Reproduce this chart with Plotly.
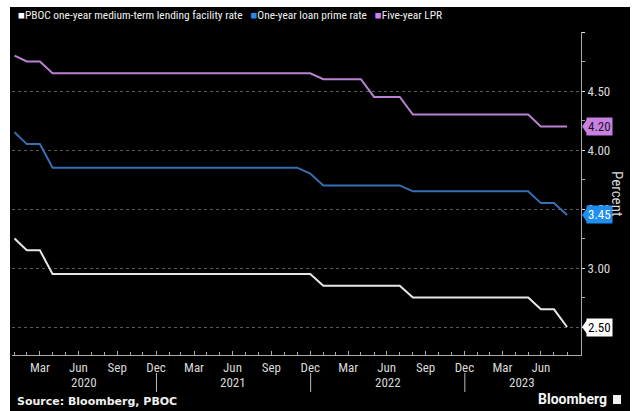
import plotly.graph_objects as go
import pandas as pd

# Monthly (month-end) observations, Jan 2020 - Aug 2023
months = pd.date_range("2020-01-31", periods=44, freq="ME")

mlf = [3.25, 3.15, 3.15, 2.95, 2.95, 2.95, 2.95, 2.95, 2.95, 2.95, 2.95, 2.95,
       2.95, 2.95, 2.95, 2.95, 2.95, 2.95, 2.95, 2.95, 2.95, 2.95, 2.95, 2.95,
       2.85, 2.85, 2.85, 2.85, 2.85, 2.85, 2.85, 2.75, 2.75, 2.75, 2.75, 2.75,
       2.75, 2.75, 2.75, 2.75, 2.75, 2.65, 2.65, 2.50]
lpr1 = [4.15, 4.05, 4.05, 3.85, 3.85, 3.85, 3.85, 3.85, 3.85, 3.85, 3.85, 3.85,
        3.85, 3.85, 3.85, 3.85, 3.85, 3.85, 3.85, 3.85, 3.85, 3.85, 3.85, 3.80,
        3.70, 3.70, 3.70, 3.70, 3.70, 3.70, 3.70, 3.65, 3.65, 3.65, 3.65, 3.65,
        3.65, 3.65, 3.65, 3.65, 3.65, 3.55, 3.55, 3.45]
lpr5 = [4.80, 4.75, 4.75, 4.65, 4.65, 4.65, 4.65, 4.65, 4.65, 4.65, 4.65, 4.65,
        4.65, 4.65, 4.65, 4.65, 4.65, 4.65, 4.65, 4.65, 4.65, 4.65, 4.65, 4.65,
        4.60, 4.60, 4.60, 4.60, 4.45, 4.45, 4.45, 4.30, 4.30, 4.30, 4.30, 4.30,
        4.30, 4.30, 4.30, 4.30, 4.30, 4.20, 4.20, 4.20]

series_names = ["PBOC one-year medium-term lending facility rate",
                "One-year loan prime rate", "Five-year LPR"]
line_colors = ["#e6e6e6", "#3570b5", "#b981d2"]
swatch_colors = ["#ffffff", "#2a86e8", "#cf82ee"]
tag_bg = ["#ffffff", "#1f8ef0", "#c880e4"]
tag_fg = ["#000000", "#ffffff", "#1a1a1a"]

x_tick_vals = ["2020-03-31", "2020-06-30", "2020-09-30", "2020-12-31",
               "2021-03-31", "2021-06-30", "2021-09-30", "2021-12-31",
               "2022-03-31", "2022-06-30", "2022-09-30", "2022-12-31",
               "2023-03-31", "2023-06-30"]
x_tick_text = ["Mar", "Jun", "Sep", "Dec"] * 3 + ["Mar", "Jun"]
years = ["2020", "2021", "2022", "2023"]
year_centers = ["2020-07-13", "2021-07-02", "2022-07-02", "2023-05-17"]
year_bounds = ["2021-01-01", "2022-01-01", "2023-01-01"]

y_tick_vals = [2.5, 3.0, 3.5, 4.0, 4.5, 5.0]
y_tick_text = ["2.50", "3.00", "3.50", "4.00", "4.50", ""]
y_minor_vals = [2.75, 3.25, 3.75, 4.25, 4.75]

FONT = "Liberation Sans Narrow, Roboto Condensed, Arial Narrow, Roboto, sans-serif"

fig = go.Figure()
for vals, name, col in zip([mlf, lpr1, lpr5], series_names, line_colors):
    fig.add_trace(go.Scatter(x=months, y=vals, mode="lines", name=name,
                             line=dict(color=col, width=2), showlegend=False))

W, H = 635, 411
ml, mr, mt, mb = 12, 54, 32, 56
pw, ph = W - ml - mr, H - mt - mb


def px_x(p):
    return (p - ml) / pw


def px_y(p):
    return (H - mb - p) / ph


shapes = [
    # black frame background
    dict(type="rect", xref="paper", yref="paper", x0=px_x(10), x1=px_x(630),
         y0=px_y(411), y1=px_y(7), fillcolor="black", line=dict(width=0),
         layer="below"),
]
for b in year_bounds:
    shapes.append(dict(type="line", xref="x", yref="paper", x0=b, x1=b,
                       y0=px_y(373), y1=px_y(392),
                       line=dict(color="#bbbbbb", width=1)))

annotations = []
# legend
legend_html = "&nbsp;&nbsp;&nbsp;".join(
    f"<span style='color:{c}'>■</span>{n}" for c, n in zip(swatch_colors, series_names))
annotations.append(dict(xref="paper", yref="paper", x=px_x(16), y=px_y(15),
                        xanchor="left", yanchor="middle", showarrow=False,
                        text=legend_html, font=dict(family=FONT, size=11.4, color="#f0f0f0")))
# year labels
for yr, c in zip(years, year_centers):
    annotations.append(dict(xref="x", yref="paper", x=c, y=px_y(382),
                            xanchor="center", yanchor="middle", showarrow=False,
                            text=yr, font=dict(family=FONT, size=13, color="#d8d8d8")))
# last-value tags
for vals, bg, fg in zip([mlf, lpr1, lpr5], tag_bg, tag_fg):
    last = vals[-1]
    annotations.append(dict(xref="paper", yref="y", x=px_x(586), y=last,
                            xanchor="left", yanchor="middle", showarrow=False,
                            text=f"{last:.2f}", bgcolor=bg, borderpad=1,
                            font=dict(family=FONT, size=13, color=fg)))
    shapes.append(dict(type="path", xref="paper", yref="y",
                       path=f"M {px_x(582)},{last} L {px_x(587)},{last + 0.06} "
                            f"L {px_x(587)},{last - 0.06} Z",
                       fillcolor=bg, line=dict(width=0)))
# axis title
annotations.append(dict(xref="paper", yref="paper", x=px_x(617), y=px_y(193),
                        xanchor="center", yanchor="middle", showarrow=False,
                        text="Percent", textangle=90,
                        font=dict(family=FONT, size=15, color="#d8d8d8")))
# source + logo
annotations.append(dict(xref="paper", yref="paper", x=px_x(15), y=px_y(401),
                        xanchor="left", yanchor="middle", showarrow=False,
                        text="<b>Source: Bloomberg, PBOC</b>",
                        font=dict(family="DejaVu Sans, sans-serif", size=11, color="#f0f0f0")))
annotations.append(dict(xref="paper", yref="paper", x=px_x(609), y=px_y(399),
                        xanchor="right", yanchor="middle", showarrow=False,
                        text="<b>Bloomberg</b>",
                        font=dict(family="Roboto, sans-serif", size=14, color="#f4f4f4")))
shapes.append(dict(type="rect", xref="paper", yref="paper", x0=px_x(613), x1=px_x(621),
                   y0=px_y(404), y1=px_y(395), fillcolor="#f0f0f0",
                   line=dict(width=0)))

fig.update_layout(
    width=W, height=H,
    margin=dict(l=ml, r=mr, t=mt, b=mb, pad=0),
    paper_bgcolor="white", plot_bgcolor="black",
    font=dict(family=FONT, size=13, color="#d8d8d8"),
    shapes=shapes, annotations=annotations,
    xaxis=dict(range=["2020-01-25", "2023-10-03"], tickmode="array",
               tickvals=x_tick_vals, ticktext=x_tick_text,
               ticks="inside", ticklen=4, tickcolor="#aaaaaa",
               showgrid=False, zeroline=False,
               showline=True, linecolor="#aaaaaa", linewidth=1,
               tickfont=dict(family=FONT, size=13, color="#d8d8d8"),
               minor=dict(tickvals=list(months.strftime("%Y-%m-%d")),
                          ticks="inside", ticklen=3, tickcolor="#aaaaaa")),
    yaxis=dict(side="right", range=[2.263, 5.0], tickmode="array",
               tickvals=y_tick_vals, ticktext=y_tick_text,
               ticks="outside", ticklen=3, tickcolor="#dddddd",
               showgrid=True, gridcolor="#5a5a5a", griddash="dot", gridwidth=1,
               zeroline=False, showline=True, linecolor="#aaaaaa", linewidth=1,
               tickfont=dict(family=FONT, size=13, color="#d8d8d8"),
               minor=dict(tickvals=y_minor_vals, ticks="outside", ticklen=3,
                          tickcolor="#aaaaaa", showgrid=False)),
)

fig.write_html("out.html")
